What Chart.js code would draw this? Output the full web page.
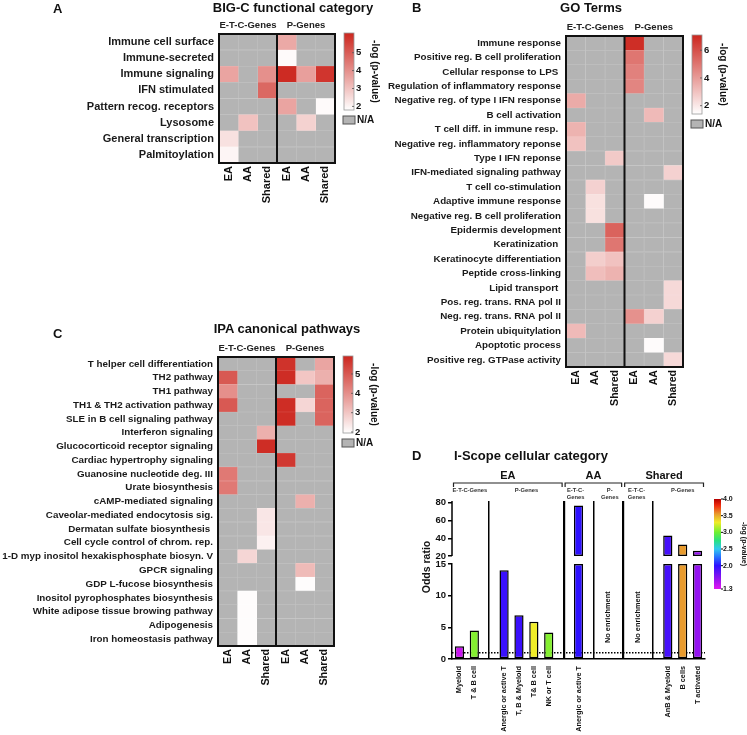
<!DOCTYPE html>
<html>
<head>
<meta charset="utf-8">
<title>Enrichment of gene sets</title>
<script src="https://cdn.jsdelivr.net/npm/chart.js@4.4.1/dist/chart.umd.min.js"></script>
<style>
  body { margin: 0; background: #fff; }
  #page { position: relative; width: 747px; height: 735px; overflow: hidden;
          font-family: 'Liberation Sans', Arial, sans-serif; color: #111; }
  #page canvas { position: absolute; }
  .txt { position: absolute; font-weight: bold; white-space: nowrap; line-height: 16px; }
  .letter { font-size: 13px; }
  .ttl { font-size: 13px; text-align: center; }
</style>
</head>
<body>
<div id="page">
  <canvas id="chartA" width="380" height="240" style="left:0;top:0"></canvas>
  <canvas id="chartB" width="367" height="420" style="left:380px;top:0"></canvas>
  <canvas id="chartC" width="380" height="495" style="left:0;top:240px"></canvas>
  <canvas id="chartD" width="367" height="315" style="left:380px;top:420px"></canvas>

  <div class="txt letter" style="left:53px;top:1px">A</div>
  <div class="txt ttl" style="left:173px;top:0;width:240px">BIG-C functional category</div>
  <div class="txt letter" style="left:412px;top:0">B</div>
  <div class="txt ttl" style="left:491px;top:0;width:200px">GO Terms</div>
  <div class="txt letter" style="left:53px;top:326px">C</div>
  <div class="txt ttl" style="left:167px;top:321px;width:240px">IPA canonical pathways</div>
  <div class="txt letter" style="left:412px;top:448px">D</div>
  <div class="txt ttl" style="left:454px;top:448px;text-align:left">I-Scope cellular category</div>
</div>
<script>
Chart.defaults.font.family = "'Liberation Sans', Arial, sans-serif";
Chart.defaults.color = '#111';

// columns shared by the three heatmaps
const colLabels = ['EA', 'AA', 'Shared', 'EA', 'AA', 'Shared'];
const geneGroups = ['E-T-C-Genes', 'P-Genes'];

// A - BIG-C functional category, -log(p-value), null = N/A
const bigcRows = ['Immune cell surface', 'Immune-secreted', 'Immune signaling', 'IFN stimulated',
  'Pattern recog. receptors', 'Lysosome', 'General transcription', 'Palmitoylation'];
const bigcValues = [
  [null, null, null, 3.5, null, null],
  [null, null, null, 1.9, null, null],
  [3.6, null, 4.0, 6.0, 3.7, 5.8],
  [null, null, 4.8, null, null, null],
  [null, null, null, 3.6, null, 1.9],
  [null, 3.0, null, null, 2.7, null],
  [2.4, null, null, null, null, null],
  [2.0, null, null, null, null, null]
];

// B - GO terms
const goRows = ['Immune response', 'Positive reg. B cell proliferation', 'Cellular response to LPS ',
  'Regulation of inflammatory response', 'Negative reg. of type I IFN response', 'B cell activation',
  'T cell diff. in immune resp. ', 'Negative reg. inflammatory reponse', 'Type I IFN reponse',
  'IFN-mediated signaling pathway', 'T cell co-stimulation', 'Adaptive immune response',
  'Negative reg. B cell proliferation', 'Epidermis development', 'Keratinization ',
  'Keratinocyte differentiation', 'Peptide cross-linking', 'Lipid transport ',
  'Pos. reg. trans. RNA pol II', 'Neg. reg. trans. RNA pol II', 'Protein ubiquitylation',
  'Apoptotic process', 'Positive reg. GTPase activity'];
const goValues = [
  [null, null, null, 6.9, null, null],
  [null, null, null, 5.0, null, null],
  [null, null, null, 4.7, null, null],
  [null, null, null, 4.6, null, null],
  [3.6, null, null, null, null, null],
  [null, null, null, null, 3.2, null],
  [3.4, null, null, null, null, null],
  [3.0, null, null, null, null, null],
  [null, null, 2.8, null, null, null],
  [null, null, null, null, null, 2.6],
  [null, 2.6, null, null, null, null],
  [null, 2.2, null, null, 1.5, null],
  [null, 2.2, null, null, null, null],
  [null, null, 5.5, null, null, null],
  [null, null, 5.0, null, null, null],
  [null, 2.7, 3.0, null, null, null],
  [null, 3.1, 3.4, null, null, null],
  [null, null, null, null, null, 2.4],
  [null, null, null, null, null, 2.4],
  [null, null, null, 4.3, 2.6, null],
  [3.2, null, null, null, null, null],
  [null, null, null, null, 1.5, null],
  [null, null, null, null, null, 2.4]
];

// C - IPA canonical pathways
const ipaRows = ['T helper cell differentiation', 'TH2 pathway', 'TH1 pathway',
  'TH1 & TH2 activation pathway', 'SLE in B cell signaling pathway', 'Interferon signaling',
  'Glucocorticoid receptor signaling', 'Cardiac hypertrophy signaling', 'Guanosine nucleotide deg. III',
  'Urate biosynthesis', 'cAMP-mediated signaling', 'Caveolar-mediated endocytosis sig.',
  'Dermatan sulfate biosynthesis ', 'Cell cycle control of chrom. rep.',
  '1-D myp inositol hexakisphosphate biosyn. V', 'GPCR signaling', 'GDP L-fucose biosynthesis',
  'Inositol pyrophosphates biosynthesis', 'White adipose tissue browing pathway', 'Adipogenesis',
  'Iron homeostasis pathway'];
const ipaValues = [
  [null, null, null, 5.7, null, 3.6],
  [5.0, null, null, 5.8, 3.0, 3.4],
  [4.0, null, null, null, null, 4.8],
  [5.0, null, null, 5.8, 2.7, 4.8],
  [null, null, null, 5.8, null, 4.8],
  [null, null, 3.4, null, null, null],
  [null, null, 5.8, null, null, null],
  [null, null, null, 5.6, null, null],
  [4.4, null, null, null, null, null],
  [4.4, null, null, null, null, null],
  [null, null, null, null, 3.4, null],
  [null, null, 2.4, null, null, null],
  [null, null, 2.4, null, null, null],
  [null, null, 2.2, null, null, null],
  [null, 2.7, null, null, null, null],
  [null, null, null, null, 3.2, null],
  [null, null, null, null, 2.0, null],
  [null, 2.0, null, null, null, null],
  [null, 2.0, null, null, null, null],
  [null, 2.0, null, null, null, null],
  [null, 2.0, null, null, null, null]
];

// D - I-Scope cellular category (empty labels = gaps between groups)
const iscopeLabels = ['Myeloid', 'T & B cell', '', 'Anergic or active T', 'T, B & Myeloid', 'T& B cell',
  'NK or T cell', '', 'Anergic or active T', '', '', '', '', '', 'AnB & Myeloid', 'B cells', 'T activated'];
const iscopeOdds = [2.0, 4.5, null, 14.0, 6.9, 5.9, 4.2, null, 77, null, null, null, null, null, 43, 33, 26];
const iscopeLogP = [1.4, 3.05, null, 1.95, 1.95, 3.3, 3.05, null, 2.0, null, null, null, null, null, 1.9, 3.55, 1.6];
const iscopeGroups = ['EA', 'AA', 'Shared'];
const iscopeGroupEdges = [-0.5, 7, 11, 16.5];
const iscopeDividers = [2, 7, 9, 11, 13];
const iscopeEmpty = [10, 12];
const iscopeSubHeads = [
  { at: 0.7, text: ['E-T-C-Genes'] }, { at: 4.5, text: ['P-Genes'] },
  { at: 7.8, text: ['E-T-C-', 'Genes'] }, { at: 10.1, text: ['P-', 'Genes'] },
  { at: 11.9, text: ['E-T-C-', 'Genes'] }, { at: 15, text: ['P-Genes'] }
];

const NA_RGB = [180, 180, 180];
const HEAT_HI = [204, 38, 30];
const css = c => `rgb(${c.map(Math.round).join(',')})`;
const bold = s => `bold ${s}px 'Liberation Sans', Arial, sans-serif`;

function heatRGB(v, lo, hi) {
  if (v === null) return NA_RGB;
  const t = Math.max(0, Math.min(1, (v - lo) / (hi - lo)));
  return HEAT_HI.map(h => 255 + (h - 255) * t);
}

// draws frame, group headers, colour bar and N/A key of a heatmap
const heatDeco = {
  id: 'heatDeco',
  afterDraw(chart, args, o) {
    const { ctx, chartArea: a, scales: { x } } = chart;
    ctx.save();
    ctx.strokeStyle = '#111';
    ctx.lineWidth = 2;
    ctx.strokeRect(a.left, a.top, a.right - a.left, a.bottom - a.top);
    const xd = x.getPixelForValue(3);
    ctx.beginPath(); ctx.moveTo(xd, a.top); ctx.lineTo(xd, a.bottom); ctx.stroke();

    ctx.fillStyle = '#222';
    ctx.font = bold(9.5);
    ctx.textAlign = 'center';
    ctx.textBaseline = 'middle';
    geneGroups.forEach((g, i) => ctx.fillText(g, x.getPixelForValue(1.5 + 3 * i), a.top - 9));

    // colour bar
    const bx = a.right + 9, bw = 10, by = a.top - 1, bh = o.barH;
    const grad = ctx.createLinearGradient(0, by + bh, 0, by);
    grad.addColorStop(0, css(heatRGB(o.min, o.min, o.max)));
    grad.addColorStop(1, css(heatRGB(o.max, o.min, o.max)));
    ctx.fillStyle = grad;
    ctx.fillRect(bx, by, bw, bh);
    ctx.lineWidth = 0.8;
    ctx.strokeStyle = '#999';
    ctx.strokeRect(bx, by, bw, bh);
    ctx.fillStyle = '#111';
    ctx.font = bold(9.5);
    ctx.textAlign = 'left';
    o.ticks.forEach(t => {
      const ty = by + bh - (t - o.min) / (o.max - o.min) * bh;
      ctx.strokeStyle = '#555';
      ctx.beginPath(); ctx.moveTo(bx + bw - 2, ty); ctx.lineTo(bx + bw, ty); ctx.stroke();
      ctx.fillText(String(t), bx + bw + 2, ty);
    });
    ctx.save();
    ctx.translate(bx + bw + 21, by + bh / 2);
    ctx.rotate(Math.PI / 2);
    ctx.textAlign = 'center';
    ctx.font = bold(10);
    ctx.fillText('-log (p-value)', 0, 0);
    ctx.restore();

    // N/A key
    const ny = by + bh + 6;
    ctx.fillStyle = css(NA_RGB);
    ctx.fillRect(bx - 1, ny, 12, 8);
    ctx.strokeStyle = '#555';
    ctx.lineWidth = 1;
    ctx.strokeRect(bx - 1, ny, 12, 8);
    ctx.fillStyle = '#111';
    ctx.font = bold(10);
    ctx.fillText('N/A', bx + 13, ny + 4.5);
    ctx.restore();
  }
};

function heatmap(id, rows, values, o) {
  const datasets = colLabels.map((c, j) => ({
    label: c,
    data: rows.map(() => 1),
    backgroundColor: values.map(r => css(heatRGB(r[j], o.min, o.max))),
    borderColor: values.map(r => css(heatRGB(r[j], o.min, o.max).map(k => k + (255 - k) * 0.18))),
    borderWidth: 0.6,
    borderSkipped: false,
    barPercentage: 1,
    categoryPercentage: 1
  }));
  return new Chart(document.getElementById(id), {
    type: 'bar',
    data: { labels: rows, datasets },
    plugins: [heatDeco],
    options: {
      indexAxis: 'y',
      responsive: false,
      animation: false,
      layout: { padding: o.padding },
      plugins: { legend: { display: false }, tooltip: { enabled: false }, heatDeco: o },
      scales: {
        x: {
          stacked: true, min: 0, max: 6,
          grid: { display: false, drawTicks: false }, border: { display: false },
          afterBuildTicks: s => { s.ticks = colLabels.map((_, i) => ({ value: i + 0.5 })); },
          ticks: {
            autoSkip: false, maxRotation: 90, minRotation: 90, padding: 3, color: '#111',
            font: { size: o.xFont, weight: 'bold' },
            callback: v => colLabels[Math.floor(v)]
          },
          afterFit: s => { s.height = 45; }
        },
        y: {
          stacked: true,
          grid: { display: false, drawTicks: false }, border: { display: false },
          ticks: { autoSkip: false, padding: 5, color: '#1a1a1a', font: { size: o.yFont, weight: 'bold' } },
          afterFit: s => { s.width = o.yWidth; }
        }
      }
    }
  });
}

heatmap('chartA', bigcRows, bigcValues, {
  min: 1.8, max: 6.1, ticks: [2, 3, 4, 5], barH: 77,
  padding: { top: 34, right: 45, bottom: 32, left: 0 }, yWidth: 219, yFont: 11, xFont: 11
});
heatmap('chartB', goRows, goValues, {
  min: 1.4, max: 7.1, ticks: [2, 4, 6], barH: 79,
  padding: { top: 36, right: 64, bottom: 8, left: 0 }, yWidth: 186, yFont: 9.8, xFont: 10.6
});
heatmap('chartC', ipaRows, ipaValues, {
  min: 1.95, max: 5.93, ticks: [2, 3, 4, 5], barH: 77,
  padding: { top: 117, right: 46, bottom: 44, left: 0 }, yWidth: 218, yFont: 9.8, xFont: 10.8
});

// rainbow colour scale of panel D
const rainbowStops = [
  [1.3, [226, 22, 240]], [1.65, [135, 18, 240]], [2.0, [45, 16, 255]], [2.25, [40, 110, 255]],
  [2.5, [50, 200, 240]], [2.75, [40, 225, 130]], [3.0, [110, 240, 50]], [3.3, [240, 236, 40]],
  [3.55, [232, 155, 45]], [3.8, [240, 45, 15]], [4.0, [180, 0, 0]]
];
function rainbow(v) {
  if (v === null) return 'rgba(0,0,0,0)';
  const s = rainbowStops;
  if (v <= s[0][0]) return css(s[0][1]);
  for (let i = 1; i < s.length; i++) {
    if (v <= s[i][0]) {
      const t = (v - s[i - 1][0]) / (s[i][0] - s[i - 1][0]);
      return css(s[i - 1][1].map((c, k) => c + (s[i][1][k] - c) * t));
    }
  }
  return css(s[s.length - 1][1]);
}

const iscopeDeco = {
  id: 'iscopeDeco',
  beforeDatasetsDraw(chart) {
    const { ctx, chartArea: a, scales: { yLow } } = chart;
    const y1 = yLow.getPixelForValue(1);
    ctx.save();
    ctx.setLineDash([1.5, 1.5]);
    ctx.lineWidth = 1.5;
    ctx.strokeStyle = '#000';
    ctx.beginPath(); ctx.moveTo(a.left, y1); ctx.lineTo(a.right, y1); ctx.stroke();
    ctx.restore();
  },
  afterDraw(chart) {
    const { ctx, chartArea: a, scales: { x, yLow, yHigh } } = chart;
    ctx.save();
    // upper part of the broken y axis
    ctx.strokeStyle = '#000';
    ctx.lineWidth = 1.5;
    ctx.beginPath(); ctx.moveTo(a.left, yHigh.getPixelForValue(20)); ctx.lineTo(a.left, a.top); ctx.stroke();

    ctx.fillStyle = '#111';
    ctx.textAlign = 'center';
    ctx.textBaseline = 'middle';
    ctx.font = bold(7.4);
    iscopeEmpty.forEach(i => {
      ctx.save();
      ctx.translate(x.getPixelForValue(i), yLow.getPixelForValue(6.6));
      ctx.rotate(-Math.PI / 2);
      ctx.fillText('No enrichment', 0, 0);
      ctx.restore();
    });

    // y axis title
    ctx.save();
    ctx.translate(47, 147);
    ctx.rotate(-Math.PI / 2);
    ctx.font = bold(10.5);
    ctx.fillText('Odds ratio', 0, 0);
    ctx.restore();

    // group brackets
    ctx.lineWidth = 1.2;
    ctx.strokeStyle = '#222';
    iscopeGroups.forEach((g, i) => {
      const x0 = x.getPixelForValue(iscopeGroupEdges[i]) + 1.5;
      const x1 = x.getPixelForValue(iscopeGroupEdges[i + 1]) - 1.5;
      ctx.beginPath();
      ctx.moveTo(x0, 67); ctx.lineTo(x0, 63); ctx.lineTo(x1, 63); ctx.lineTo(x1, 67);
      ctx.stroke();
      ctx.font = bold(11);
      ctx.fillText(g, (x0 + x1) / 2, 56);
    });
    ctx.font = bold(5.8);
    ctx.fillStyle = '#333';
    iscopeSubHeads.forEach(h => {
      h.text.forEach((t, k) => ctx.fillText(t, x.getPixelForValue(h.at), 70 + k * 7));
    });

    // colour bar
    const bx = a.right + 9, bw = 7, by = a.top - 2, bh = 90, lo = 1.3, hi = 4.0;
    const grad = ctx.createLinearGradient(0, by + bh, 0, by);
    rainbowStops.forEach(s => grad.addColorStop((s[0] - lo) / (hi - lo), css(s[1])));
    ctx.fillStyle = grad;
    ctx.fillRect(bx, by, bw, bh);
    ctx.fillStyle = '#111';
    ctx.textAlign = 'left';
    ctx.font = bold(7);
    ctx.lineWidth = 1;
    ctx.strokeStyle = '#000';
    [4.0, 3.5, 3.0, 2.5, 2.0, 1.3].forEach(t => {
      const ty = by + bh - (t - lo) / (hi - lo) * bh;
      ctx.beginPath(); ctx.moveTo(bx + bw, ty); ctx.lineTo(bx + bw + 2, ty); ctx.stroke();
      ctx.fillText(t.toFixed(1), bx + bw + 2, ty);
    });
    ctx.save();
    ctx.translate(bx + bw + 23, by + bh / 2);
    ctx.rotate(Math.PI / 2);
    ctx.textAlign = 'center';
    ctx.fillText('-log (p-value)', 0, 0);
    ctx.restore();
    ctx.restore();
  }
};

const barColors = iscopeLogP.map(rainbow);
const barStyle = {
  backgroundColor: barColors,
  borderColor: '#000',
  borderWidth: 1.5,
  borderSkipped: false,
  grouped: false,
  barPercentage: 0.62,
  categoryPercentage: 1
};
const tickStyle = { font: { size: 9.5, weight: 'bold' }, color: '#111', padding: 2 };
const axisGrid = { drawOnChartArea: false, tickLength: 4, color: '#000', lineWidth: 1.5 };

new Chart(document.getElementById('chartD'), {
  type: 'bar',
  data: {
    labels: iscopeLabels,
    datasets: [
      Object.assign({ label: 'odds (low)', yAxisID: 'yLow',
        data: iscopeOdds.map(v => v === null ? null : Math.min(v, 15)) }, barStyle),
      Object.assign({ label: 'odds (high)', yAxisID: 'yHigh',
        data: iscopeOdds.map(v => v !== null && v > 20 ? [20, v] : null) }, barStyle)
    ]
  },
  plugins: [iscopeDeco],
  options: {
    responsive: false,
    animation: false,
    layout: { padding: { top: 81, right: 42, bottom: 0, left: 0 } },
    plugins: { legend: { display: false }, tooltip: { enabled: false } },
    scales: {
      x: {
        offset: true,
        grid: {
          offset: false, drawTicks: false,
          color: c => iscopeDividers.includes(c.index) ? '#000' : 'rgba(0,0,0,0)',
          lineWidth: c => (c.index === 7 || c.index === 11) ? 2.2 : 1.5
        },
        border: { color: '#000', width: 1.5 },
        ticks: { autoSkip: false, maxRotation: 90, minRotation: 90, padding: 7, color: '#111',
          font: { size: 7.3, weight: 'bold' } },
        afterFit: s => { s.height = 76; }
      },
      yLow: {
        type: 'linear', position: 'left', stack: 'odds', stackWeight: 95,
        min: 0, max: 15,
        ticks: Object.assign({ stepSize: 5 }, tickStyle),
        grid: axisGrid,
        border: { color: '#000', width: 1.5 },
        afterFit: s => { s.width = 72; }
      },
      yHigh: {
        type: 'linear', position: 'left', stack: 'odds', stackWeight: 63,
        min: 11, max: 82,
        afterBuildTicks: s => { s.ticks = [20, 40, 60, 80].map(v => ({ value: v })); },
        ticks: tickStyle,
        grid: axisGrid,
        border: { display: false },
        afterFit: s => { s.width = 72; }
      }
    }
  }
});
</script>
</body>
</html>
